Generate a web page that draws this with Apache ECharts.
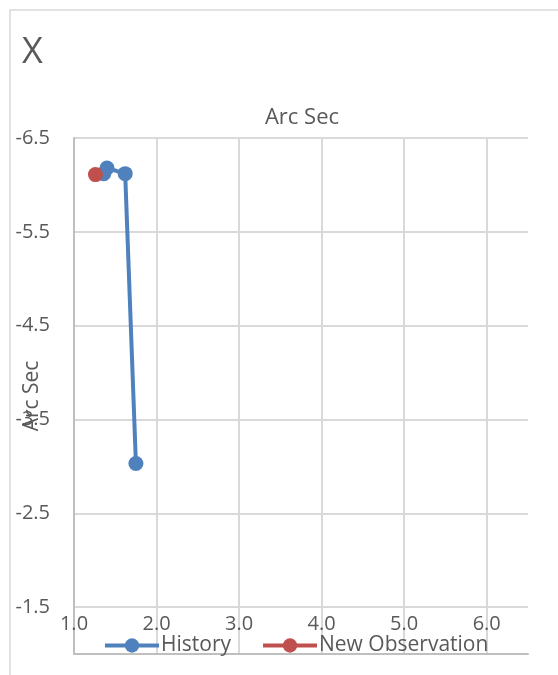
<!DOCTYPE html>
<html>
<head>
<meta charset="utf-8">
<script src="https://cdn.jsdelivr.net/npm/echarts@6/dist/echarts.min.js"></script>
<style>
  html, body { margin: 0; padding: 0; background: #fff; }
  #chart { width: 558px; height: 675px; }
</style>
</head>
<body>
<div id="chart"></div>
<script>
// Offsets in arc seconds: x along the horizontal, y along the vertical (reversed)
const historyPoints = [
  [1.36, -6.12],
  [1.40, -6.18],
  [1.62, -6.12],
  [1.75, -3.03]
];
const newObservationPoints = [
  [1.26, -6.11]
];
const seriesNames = ['History', 'New Observation'];
const xTicks = [1, 2, 3, 4, 5, 6];
const yTicks = [-6.5, -5.5, -4.5, -3.5, -2.5, -1.5];

const textColor = '#595959';
const gridColor = '#d9d9d9';
const axisColor = '#bfbfbf';
const fontFamily = "'Open Sans', sans-serif";

const isTick = (list, v) => list.some(t => Math.abs(t - v) < 1e-9);

const chart = echarts.init(document.getElementById('chart'));
chart.setOption({
  backgroundColor: '#fff',
  animation: false,
  textStyle: { fontFamily: fontFamily, color: textColor },
  graphic: [
    {
      type: 'rect',
      shape: { x: 10, y: 10, width: 620, height: 720 },
      style: { fill: 'none', stroke: gridColor, lineWidth: 1.5 },
      silent: true
    },
    {
      type: 'text',
      left: 22, top: 35,
      style: { text: 'X', fontSize: 36, fill: textColor, fontFamily: fontFamily }
    },
    {
      type: 'text',
      x: 302, y: 118,
      style: {
        text: 'Arc Sec', fontSize: 22, fill: textColor, fontFamily: fontFamily,
        align: 'center', verticalAlign: 'middle'
      }
    }
  ],
  grid: { left: 74, right: 30, top: 138, bottom: 21, containLabel: false, outerBoundsMode: 'none' },
  legend: {
    data: seriesNames,
    left: 98,
    top: 630,
    itemWidth: 54,
    itemHeight: 18,
    itemGap: 30,
    lineStyle: { width: 4 },
    textStyle: { fontSize: 21, color: textColor, fontFamily: fontFamily, padding: [0, 0, 0, -3] }
  },
  xAxis: {
    type: 'value',
    min: 1,
    max: 6.5,
    interval: 1,
    position: 'bottom',
    axisLine: { show: true, onZero: false, lineStyle: { color: axisColor, width: 2 } },
    axisTick: { show: false },
    axisLabel: {
      inside: true,
      margin: 20,
      fontSize: 20,
      color: textColor,
      fontFamily: fontFamily,
      showMaxLabel: false,
      formatter: v => isTick(xTicks, v) ? v.toFixed(1) : ''
    },
    splitLine: { show: true, showMaxLine: false, lineStyle: { color: gridColor, width: 2 } }
  },
  yAxis: {
    type: 'value',
    inverse: true,
    min: -6.5,
    max: -1.0,
    interval: 0.5,
    name: 'Arc Sec',
    nameLocation: 'middle',
    nameGap: 31,
    nameMoveOverlap: false,
    nameTextStyle: { fontSize: 21, color: textColor, fontFamily: fontFamily },
    axisLine: { show: true, onZero: false, lineStyle: { color: axisColor, width: 2 } },
    axisTick: { show: false },
    axisLabel: {
      margin: 24,
      fontSize: 20,
      color: textColor,
      fontFamily: fontFamily,
      formatter: v => isTick(yTicks, v) ? v.toFixed(1) : ''
    },
    splitLine: {
      show: true,
      showMaxLine: false,
      lineStyle: { color: [gridColor, 'rgba(0,0,0,0)'], width: 2 }
    }
  },
  series: [
    {
      name: seriesNames[0],
      type: 'line',
      data: historyPoints,
      symbol: 'circle',
      symbolSize: 15,
      lineStyle: { color: '#4f81bd', width: 4 },
      itemStyle: { color: '#4f81bd' },
      z: 2
    },
    {
      name: seriesNames[1],
      type: 'line',
      data: newObservationPoints,
      symbol: 'circle',
      symbolSize: 15,
      lineStyle: { color: '#c0504d', width: 4 },
      itemStyle: { color: '#c0504d' },
      z: 3
    }
  ]
});
</script>
</body>
</html>
